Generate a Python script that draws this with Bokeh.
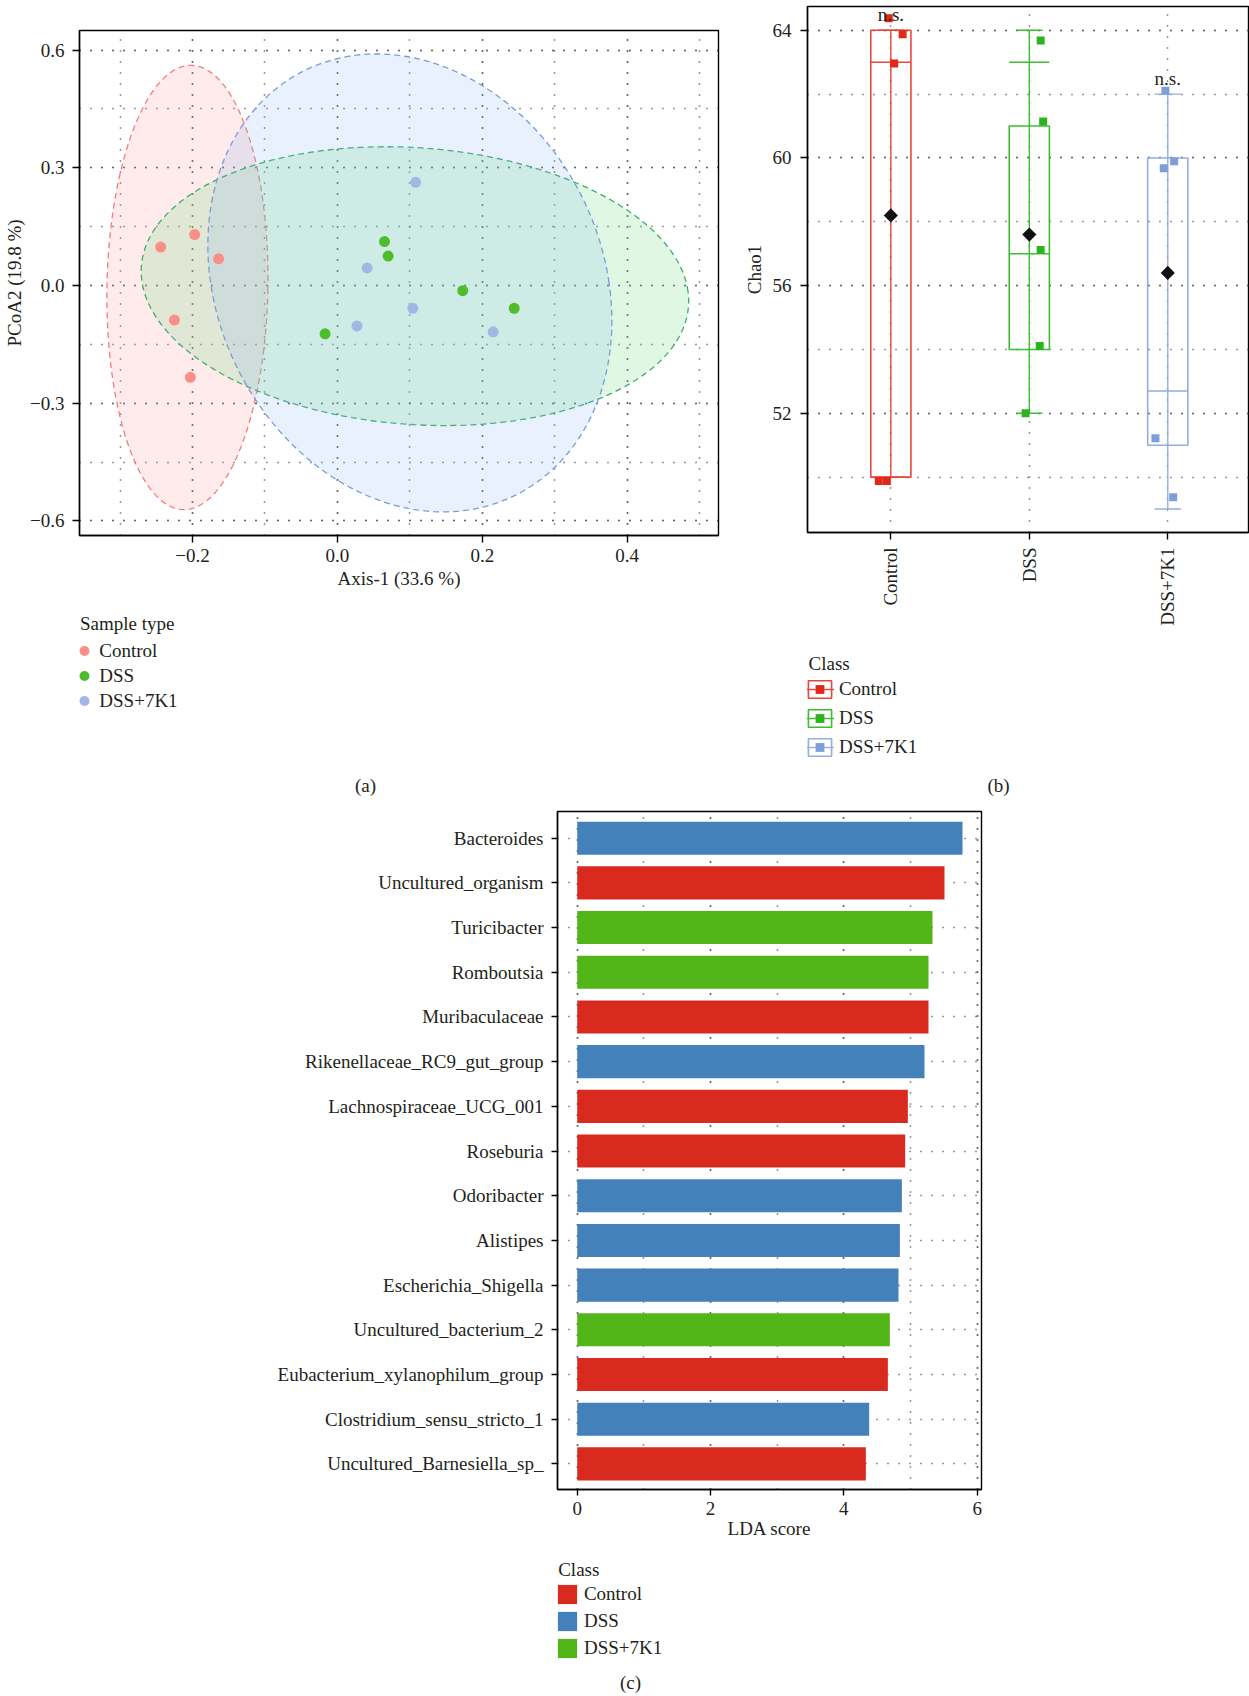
import numpy as np
from bokeh.plotting import figure
from bokeh.models import (ColumnDataSource, FixedTicker, Legend, LegendItem, Label, Range1d)
from bokeh.layouts import column, row
from bokeh.embed import file_html
from bokeh.resources import INLINE

FONT = "Liberation Serif"
TXT = "#231F20"
FS = "19px"

# ---------------- data: panel (a) PCoA ----------------
groups = ["Control", "DSS", "DSS+7K1"]
pcoa_x = {
    "Control": [-0.197, -0.244, -0.164, -0.225, -0.203],
    "DSS": [0.065, 0.070, 0.173, 0.244, -0.017],
    "DSS+7K1": [0.108, 0.041, 0.104, 0.027, 0.215],
}
pcoa_y = {
    "Control": [0.130, 0.098, 0.068, -0.088, -0.234],
    "DSS": [0.112, 0.075, -0.013, -0.058, -0.123],
    "DSS+7K1": [0.263, 0.045, -0.058, -0.103, -0.118],
}
# confidence ellipses: centre and conjugate semi-axis vectors (data units)
ell_cx = [-0.207, 0.107, 0.100]
ell_cy = [-0.005, -0.0015, 0.0067]
ell_ax = [0.111, 0.377, 0.275]
ell_bx = [0.0065, -0.025, -0.046]
ell_ay = [-0.009, -0.0145, 0.0]
ell_by = [0.566, 0.355, 0.5835]
pcoa_xticks = [-0.2, 0.0, 0.2, 0.4]
pcoa_xlabels = ["\u22120.2", "0.0", "0.2", "0.4"]
pcoa_yticks = [-0.6, -0.3, 0.0, 0.3, 0.6]
pcoa_ylabels = ["\u22120.6", "\u22120.3", "0.0", "0.3", "0.6"]

# ---------------- data: panel (b) Chao1 ----------------
chao_values = {
    "Control": [64.38, 63.88, 62.96, 49.88, 49.88],
    "DSS": [63.68, 61.14, 57.12, 54.11, 52.00],
    "DSS+7K1": [62.11, 59.68, 59.90, 51.22, 49.37],
}
chao_jitter = {
    "Control": [-0.015, 0.085, 0.024, -0.087, -0.029],
    "DSS": [0.082, 0.100, 0.082, 0.075, -0.027],
    "DSS+7K1": [-0.017, -0.029, 0.046, -0.089, 0.039],
}
box_lo = [50.0, 52.0, 49.0]
box_q1 = [50.0, 54.0, 51.0]
box_med = [63.0, 57.0, 52.7]
box_q3 = [64.0, 61.0, 60.0]
box_hi = [64.0, 64.0, 62.0]
box_mean = [58.2, 57.6, 56.4]
extra_line_group = ["DSS"]
extra_line_value = [63.0]
ns_groups = ["Control", "DSS+7K1"]
chao_ticks = [52, 56, 60, 64]
chao_minor = [50, 52, 54, 56, 58, 60, 62, 64]

# ---------------- data: panel (c) LDA ----------------
lda_taxa = ["Bacteroides", "Uncultured_organism", "Turicibacter", "Romboutsia",
            "Muribaculaceae", "Rikenellaceae_RC9_gut_group", "Lachnospiraceae_UCG_001",
            "Roseburia", "Odoribacter", "Alistipes", "Escherichia_Shigella",
            "Uncultured_bacterium_2", "Eubacterium_xylanophilum_group",
            "Clostridium_sensu_stricto_1", "Uncultured_Barnesiella_sp_"]
lda_scores = [5.78, 5.51, 5.33, 5.27, 5.27, 5.21, 4.96, 4.92, 4.87, 4.84, 4.82,
              4.69, 4.66, 4.38, 4.33]
lda_class = ["DSS", "Control", "DSS+7K1", "DSS+7K1", "Control", "DSS", "Control",
             "Control", "DSS", "DSS", "DSS", "DSS+7K1", "Control", "DSS", "Control"]
lda_ticks = [0, 2, 4, 6]

# ---------------- styles ----------------
pt_col_a = ["#FA8E88", "#4DBD2B", "#A3B7E6"]
ell_fill = ["#FF8A95", "#70E080", "#7EB2F5"]
ell_alpha = [0.18, 0.22, 0.18]
ell_line = ["#F07F78", "#3DAE6A", "#7B9BD8"]
box_line_b = ["#E6463B", "#3DBE30", "#93AEE0"]
pt_col_b = ["#E0281B", "#2DB31F", "#7E9EDA"]
bar_col = {"Control": "#D92A1F", "DSS": "#4480B9", "DSS+7K1": "#52B518"}
NAN = np.array([np.nan])


def style(p):
    p.outline_line_color = "black"
    p.outline_line_width = 1.4
    p.outline_line_alpha = 1.0
    p.background_fill_color = "white"
    p.border_fill_color = "white"
    for ax in p.axis:
        ax.axis_line_color = "black"
        ax.axis_line_width = 1.4
        ax.major_tick_line_color = "black"
        ax.major_tick_line_width = 1.4
        ax.major_tick_in = 0
        ax.major_tick_out = 7
        ax.minor_tick_line_color = None
        ax.major_label_text_font = FONT
        ax.major_label_text_font_size = FS
        ax.major_label_text_color = TXT
        ax.axis_label_text_font = FONT
        ax.axis_label_text_font_size = FS
        ax.axis_label_text_font_style = "normal"
        ax.axis_label_text_color = TXT
    for g in p.grid:
        g.grid_line_color = "#333333"
        g.grid_line_dash = "1 10"
        g.grid_line_width = 1.5
        g.minor_grid_line_color = "#333333"
        g.minor_grid_line_dash = "1 10"
        g.minor_grid_line_width = 1.5


def caption_fig(width, height, bl, br, x0, x1, top, bottom):
    # caption strip under a plot; its frame lines up with the plot frame above,
    # ranges are page pixels so texts can be placed where the reference has them
    f = figure(width=width, height=height, x_range=Range1d(x0, x1), y_range=Range1d(bottom, top),
               min_border_left=bl, min_border_right=br, min_border_top=0, min_border_bottom=0,
               x_axis_location=None, y_axis_location=None,
               output_backend="svg", toolbar_location=None, title=None)
    f.grid.visible = False
    f.outline_line_color = None
    f.background_fill_color = "white"
    f.border_fill_color = "white"
    return f


def add_text(f, x, y, text, align="left"):
    f.add_layout(Label(x=x, y=y, text=text, text_font=FONT, text_font_size=FS,
                       text_color=TXT, text_align=align, text_baseline="middle"))


def make_legend(items, loc, gw, gh, spacing, standoff):
    return Legend(items=items, location=loc, orientation="vertical",
                  glyph_width=gw, glyph_height=gh, label_height=gh,
                  spacing=spacing, padding=0, margin=0, label_standoff=standoff,
                  label_text_font=FONT, label_text_font_size=FS,
                  label_text_color=TXT, border_line_color=None,
                  background_fill_alpha=0)


# ================= panel (a) =================
pa = figure(frame_width=639, frame_height=505, min_border_left=79, min_border_right=22,
            min_border_top=30, min_border_bottom=70,
            x_range=Range1d(-0.356, 0.526), y_range=Range1d(-0.637, 0.650),
            output_backend="svg", toolbar_location=None, title=None)
pa.xaxis.ticker = FixedTicker(ticks=pcoa_xticks, minor_ticks=[-0.3, -0.2, -0.1, 0.0, 0.1, 0.2, 0.3, 0.4, 0.5])
pa.yaxis.ticker = FixedTicker(ticks=pcoa_yticks, minor_ticks=[-0.6, -0.45, -0.3, -0.15, 0.0, 0.15, 0.3, 0.45, 0.6])
pa.xaxis.major_label_overrides = {t: l for t, l in zip(pcoa_xticks, pcoa_xlabels)}
pa.yaxis.major_label_overrides = {t: l for t, l in zip(pcoa_yticks, pcoa_ylabels)}
pa.xaxis.axis_label = "Axis-1 (33.6 %)"
pa.yaxis.axis_label = "PCoA2 (19.8 %)"
style(pa)
pa.xaxis.major_label_standoff = 6
pa.xaxis.axis_label_standoff = 3
pa.yaxis.major_label_standoff = 8
pa.yaxis.axis_label_standoff = 2

tt = np.linspace(0, 2 * np.pi, 300)
for i, g in enumerate(groups):
    ex = ell_cx[i] + ell_ax[i] * np.cos(tt) + ell_bx[i] * np.sin(tt)
    ey = ell_cy[i] + ell_ay[i] * np.cos(tt) + ell_by[i] * np.sin(tt)
    pa.patch(ex, ey, fill_color=ell_fill[i], fill_alpha=ell_alpha[i],
             line_color=ell_line[i], line_dash="6 4", line_width=1.3)
for i, g in enumerate(groups):
    pa.scatter(pcoa_x[g], pcoa_y[g], marker="circle", size=11,
               fill_color=pt_col_a[i], line_color=None)

cap_a = caption_fig(740, 195, 79, 22, 79, 718, 605, 800)
a_items = []
for i, g in enumerate(groups):
    r = cap_a.scatter(NAN, NAN, marker="circle", size=11, fill_color=pt_col_a[i], line_color=None)
    a_items.append(LegendItem(label=g, renderers=[r]))
cap_a.add_layout(make_legend(a_items, (-8.7, 86.8), 28, 25, 0, 1))
add_text(cap_a, 79.5, 623, "Sample type")
add_text(cap_a, 365, 785, "(a)", align="center")

# ================= panel (b) =================
pb = figure(frame_width=441, frame_height=526, min_border_left=67, min_border_right=1,
            min_border_top=6, min_border_bottom=100,
            x_range=Range1d(0.398, 3.583), y_range=Range1d(48.266, 64.746),
            output_backend="svg", toolbar_location=None, title=None)
pb.xaxis.ticker = FixedTicker(ticks=[1, 2, 3])
pb.xaxis.major_label_overrides = {i + 1: g for i, g in enumerate(groups)}
pb.xaxis.major_label_orientation = np.pi / 2
pb.yaxis.ticker = FixedTicker(ticks=chao_ticks, minor_ticks=chao_minor)
pb.yaxis.axis_label = "Chao1"
style(pb)
pb.xaxis.major_label_standoff = 8
pb.yaxis.major_label_standoff = 9
pb.yaxis.axis_label_standoff = 5

BW, CW = 0.29, 0.19
for i, g in enumerate(groups):
    xc = i + 1
    col = box_line_b[i]
    pb.vbar(x=[xc], width=BW, bottom=[box_q1[i]], top=[box_q3[i]],
            fill_color=None, line_color=col, line_width=1.6)
    pb.segment(x0=[xc], y0=[box_lo[i]], x1=[xc], y1=[box_hi[i]], line_color=col, line_width=1.4)
    pb.segment(x0=[xc - CW / 2, xc - CW / 2], y0=[box_lo[i], box_hi[i]],
               x1=[xc + CW / 2, xc + CW / 2], y1=[box_lo[i], box_hi[i]],
               line_color=col, line_width=1.4)
    pb.segment(x0=[xc - BW / 2], y0=[box_med[i]], x1=[xc + BW / 2], y1=[box_med[i]],
               line_color=col, line_width=1.4)
    for eg, ev in zip(extra_line_group, extra_line_value):
        if eg == g:
            pb.segment(x0=[xc - BW / 2], y0=[ev], x1=[xc + BW / 2], y1=[ev],
                       line_color=col, line_width=1.4)
    xs = [xc + j for j in chao_jitter[g]]
    pb.scatter(xs, chao_values[g], marker="square", size=8,
               fill_color=pt_col_b[i], line_color=None)
    pb.scatter([xc], [box_mean[i]], marker="square", angle=np.pi / 4, size=10,
               fill_color="#111111", line_color=None)
    if g in ns_groups:
        pb.add_layout(Label(x=xc, y=box_hi[i], y_offset=16, text="n.s.",
                            text_font=FONT, text_font_size=FS, text_color=TXT,
                            text_align="center", text_baseline="middle"))

cap_b = caption_fig(509, 168, 67, 1, 807, 1248, 632, 800)
b_items = []
for i, g in enumerate(groups):
    col = box_line_b[i]
    r1 = cap_b.vbar(x=NAN, width=1, bottom=NAN, top=NAN, fill_color=None, line_color=col, line_width=1.6)
    r2 = cap_b.segment(x0=NAN, y0=NAN, x1=NAN, y1=NAN, line_color=col, line_width=1.4)
    r3 = cap_b.scatter(NAN, NAN, marker="square", size=8, fill_color=pt_col_b[i], line_color=None)
    b_items.append(LegendItem(label=g, renderers=[r1, r2, r3]))
cap_b.add_layout(make_legend(b_items, (-2.1, 41.7), 29, 22, 7, 5))
add_text(cap_b, 808, 662.7, "Class")
add_text(cap_b, 998, 785, "(b)", align="center")

# ================= panel (c) =================
n = len(lda_taxa)
pos = [n - i for i in range(n)]
pc = figure(frame_width=424, frame_height=678, min_border_left=557, min_border_right=268,
            min_border_top=11, min_border_bottom=62,
            x_range=Range1d(-0.296, 6.065), y_range=Range1d(0.427, 15.597),
            output_backend="svg", toolbar_location=None, title=None)
pc.xaxis.ticker = FixedTicker(ticks=lda_ticks, minor_ticks=[0, 1, 2, 3, 4, 5, 6])
pc.yaxis.ticker = FixedTicker(ticks=pos)
pc.yaxis.major_label_overrides = {p_: t for p_, t in zip(pos, lda_taxa)}
pc.xaxis.axis_label = "LDA score"
style(pc)
pc.yaxis.major_tick_out = 6
pc.xaxis.major_tick_out = 6
pc.yaxis.major_label_standoff = 8
pc.xaxis.major_label_standoff = 6
pc.xaxis.axis_label_standoff = 0

for g in groups:
    idx = [k for k, c in enumerate(lda_class) if c == g]
    src = ColumnDataSource(dict(y=[pos[k] for k in idx], right=[lda_scores[k] for k in idx]))
    pc.hbar(y="y", right="right", left=0, height=0.74, source=src,
            fill_color=bar_col[g], line_color=None)

cap_c = caption_fig(1249, 145, 557, 268, 557, 981, 1551, 1696)
c_items = []
for g in groups:
    r = cap_c.hbar(y=NAN, right=NAN, left=0, height=1, fill_color=bar_col[g], line_color=None)
    c_items.append(LegendItem(label=g, renderers=[r]))
cap_c.add_layout(make_legend(c_items, (-2.1, 36.5), 24, 24, 3, 5))
add_text(cap_c, 557.7, 1569, "Class")
add_text(cap_c, 630, 1682, "(c)", align="center")

layout = column(row(column(pa, cap_a, spacing=0), column(pb, cap_b, spacing=0), spacing=0),
                pc, cap_c, spacing=0)
open("out.html", "w").write(file_html(layout, INLINE))
